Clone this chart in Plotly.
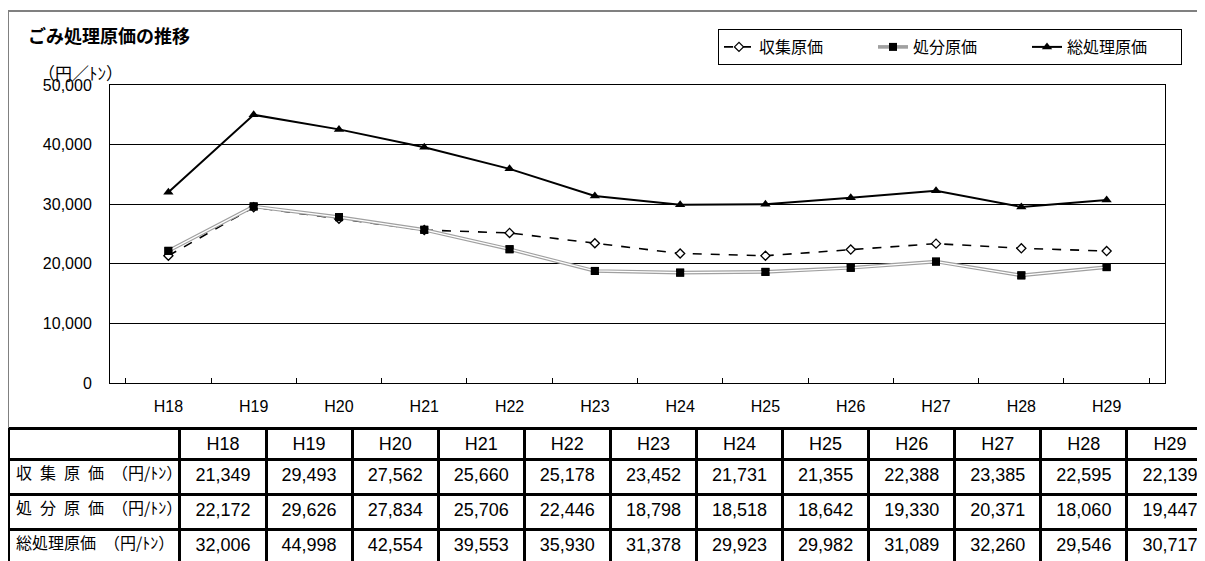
import plotly.graph_objects as go

W, H = 1205, 561
OFF = 8  # page body margin offset

years = ["H18", "H19", "H20", "H21", "H22", "H23", "H24", "H25", "H26", "H27", "H28", "H29"]
collect = [21349, 29493, 27562, 25660, 25178, 23452, 21731, 21355, 22388, 23385, 22595, 22139]
dispose = [22172, 29626, 27834, 25706, 22446, 18798, 18518, 18642, 19330, 20371, 18060, 19447]
total = [32006, 44998, 42554, 39553, 35930, 31378, 29923, 29982, 31089, 32260, 29546, 30717]
row_labels = ["収\u2002集\u2002原\u2002価\u2002（円/ﾄﾝ）", "処\u2002分\u2002原\u2002価\u2002（円/ﾄﾝ）", "総処理原価\u2002（円/ﾄﾝ）"]
series_names = ["収集原価", "処分原価", "総処理原価"]


def px(x):
    return (x - OFF) / W


def py(y):
    return 1 - (y - OFF) / H


NUMFONT = "Liberation Sans, Arial, Noto Sans CJK JP"
JPFONT = "Noto Sans CJK JP, Liberation Sans"

fig = go.Figure()

# 収集原価: dashed with open diamonds
fig.add_trace(go.Scatter(
    x=years, y=collect, name=series_names[0], mode="lines+markers",
    line=dict(color="black", width=1.6, dash="dash"),
    marker=dict(symbol="diamond", size=7, color="white", line=dict(color="black", width=1.3)),
))
# 処分原価: double gray line with black squares
fig.add_trace(go.Scatter(
    x=years, y=dispose, name=series_names[1], mode="lines+markers",
    line=dict(color="#a0a0a0", width=3.6),
    marker=dict(symbol="square", size=8, color="black"),
))
fig.add_trace(go.Scatter(
    x=years, y=dispose, mode="lines", showlegend=False, hoverinfo="skip",
    line=dict(color="white", width=1.3),
))
fig.add_trace(go.Scatter(
    x=years, y=dispose, mode="markers", showlegend=False, hoverinfo="skip",
    marker=dict(symbol="square", size=8, color="black"),
))
# 総処理原価: solid with triangles
fig.add_trace(go.Scatter(
    x=years, y=total, name=series_names[2], mode="lines+markers",
    line=dict(color="black", width=2),
    marker=dict(symbol="triangle-up", size=9, color="black"),
))

# Table
header_vals = [""] + years
cell_vals = [row_labels] + [[f"{collect[i]:,}", f"{dispose[i]:,}", f"{total[i]:,}"] for i in range(len(years))]
fig.add_trace(go.Table(
    domain=dict(x=[px(8), 1], y=[0, py(428)]),
    columnwidth=[172] + [86.1] * 12,
    header=dict(
        values=header_vals, height=31,
        fill_color="white", line=dict(color="black", width=3),
        font=dict(family=NUMFONT, size=18, color="black"), align="center",
    ),
    cells=dict(
        values=cell_vals, height=35,
        fill_color="white", line=dict(color="black", width=3),
        font=dict(family=[JPFONT] + [NUMFONT] * 12, size=[16] + [18] * 12, color="black"),
        align=["left"] + ["center"] * 12,
    ),
))

fig.update_layout(
    width=W, height=H,
    margin=dict(l=0, r=0, t=0, b=0),
    paper_bgcolor="white", plot_bgcolor="white",
    font=dict(family=NUMFONT, size=16, color="black"),
    showlegend=True,
    legend=dict(
        orientation="h", x=px(718), y=py(29), xanchor="left", yanchor="top",
        bgcolor="white", bordercolor="black", borderwidth=1,
        font=dict(family=JPFONT, size=16, color="black"),
        traceorder="normal", itemwidth=30, entrywidth=109,
    ),
    xaxis=dict(
        domain=[px(110), px(1165)], type="category", tickson="boundaries",
        ticks="inside", ticklen=5, tickcolor="black", showline=True, linecolor="black",
        linewidth=1, mirror=True, showgrid=False, automargin=False,
        ticklabelstandoff=9, tickfont=dict(size=16), fixedrange=True,
    ),
    yaxis=dict(
        domain=[py(383), py(85)], range=[0, 50000], dtick=10000,
        tickformat=",", showgrid=True, gridcolor="black", gridwidth=1,
        showline=True, linecolor="black", linewidth=1, mirror=True,
        ticks="", automargin=False, ticklabelstandoff=14, tickfont=dict(size=16),
        zeroline=False, fixedrange=True,
    ),
    annotations=[
        dict(text="<b>ごみ処理原価の推移</b>", x=px(26), y=py(35), xref="paper", yref="paper",
             xanchor="left", yanchor="middle", showarrow=False,
             font=dict(family=JPFONT, size=18, color="black")),
        dict(text="（円／ﾄﾝ）", x=px(36), y=py(73), xref="paper", yref="paper",
             xanchor="left", yanchor="middle", showarrow=False,
             font=dict(family=JPFONT, size=17, color="black")),
    ],
    shapes=[
        dict(type="line", xref="paper", yref="paper", x0=px(8), y0=py(11), x1=1, y1=py(11),
             line=dict(color="#808080", width=2)),
        dict(type="line", xref="paper", yref="paper", x0=px(8), y0=py(11), x1=px(8), y1=py(428),
             line=dict(color="#808080", width=2)),
    ],
)

fig.write_html("out.html")
